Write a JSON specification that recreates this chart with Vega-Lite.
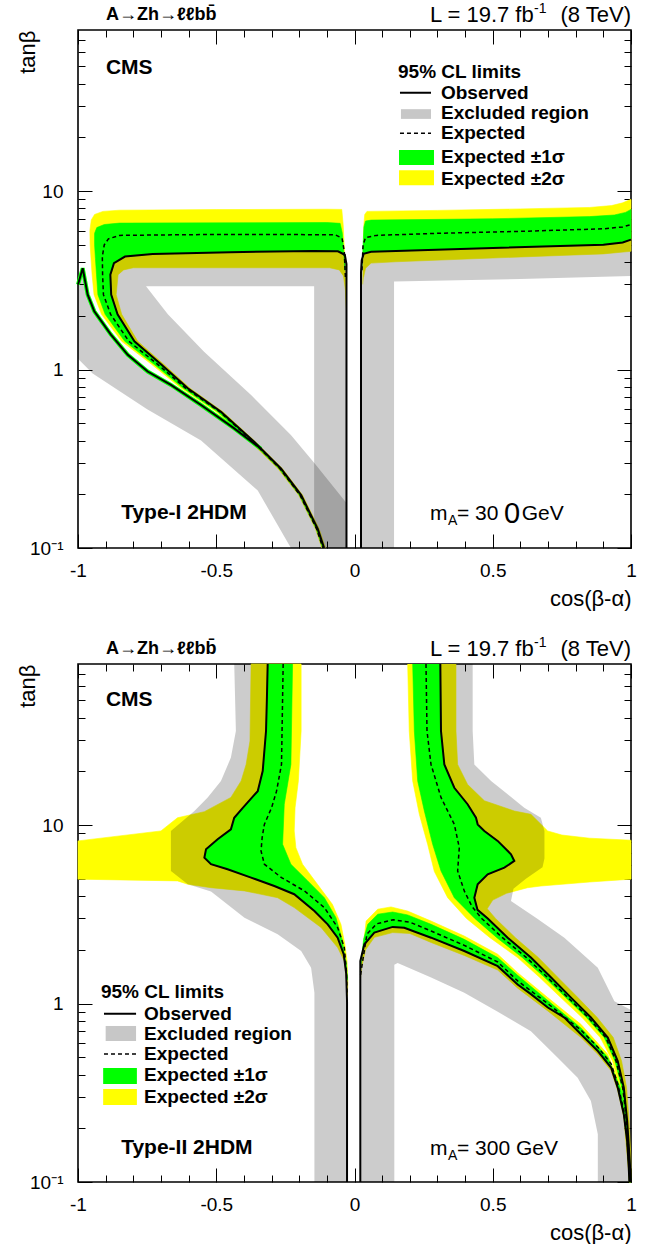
{
"$schema": "https://vega.github.io/schema/vega-lite/v6.json",
"padding": {"left": 15, "top": 1, "right": 5, "bottom": 0},
"spacing": 116,
"bounds": "flush",
"config": {
  "view": {"stroke": "#000", "strokeWidth": 1.6},
  "font": "Liberation Sans",
  "axis": {"labelFont": "Liberation Sans", "titleFont": "Liberation Sans", "labelColor": "#000", "titleColor": "#000", "tickColor": "#000", "tickWidth": 1, "domain": false, "grid": false, "labelFlush": false, "labelOverlap": false}
},
"datasets": {
"p1y": [
{"g":"L","x":-0.118,"y":0.1},{"g":"L","x":-0.141,"y":0.128},{"g":"L","x":-0.202,"y":0.198},{"g":"L","x":-0.277,"y":0.279},{"g":"L","x":-0.377,"y":0.394},{"g":"L","x":-0.501,"y":0.58},{"g":"L","x":-0.627,"y":0.785},{"g":"L","x":-0.734,"y":1.07},{"g":"L","x":-0.842,"y":1.44},{"g":"L","x":-0.915,"y":2.04},{"g":"L","x":-0.942,"y":2.63},{"g":"L","x":-0.949,"y":3.4},{"g":"L","x":-0.953,"y":4.2},{"g":"L","x":-0.956,"y":5.0},{"g":"L","x":-0.957,"y":6.0},{"g":"L","x":-0.952,"y":6.9},{"g":"L","x":-0.94,"y":7.4},{"g":"L","x":-0.91,"y":7.7},{"g":"L","x":-0.85,"y":7.82},{"g":"L","x":-0.5,"y":7.88},{"g":"L","x":-0.1,"y":7.92},{"g":"L","x":-0.046,"y":7.9},{"g":"L","x":-0.041,"y":6.5},{"g":"L","x":-0.036,"y":4.5},{"g":"L","x":-0.032,"y":3.0},{"g":"L","x":-0.029,"y":2.2},{"g":"L","x":-0.033,"y":2.8},{"g":"L","x":-0.04,"y":3.35},{"g":"L","x":-0.055,"y":3.62},{"g":"L","x":-0.09,"y":3.72},{"g":"L","x":-0.5,"y":3.72},{"g":"L","x":-0.8,"y":3.72},{"g":"L","x":-0.835,"y":3.62},{"g":"L","x":-0.855,"y":3.4},{"g":"L","x":-0.862,"y":2.63},{"g":"L","x":-0.842,"y":2.04},{"g":"L","x":-0.784,"y":1.44},{"g":"L","x":-0.69,"y":1.07},{"g":"L","x":-0.595,"y":0.785},{"g":"L","x":-0.476,"y":0.58},{"g":"L","x":-0.358,"y":0.394},{"g":"L","x":-0.261,"y":0.279},{"g":"L","x":-0.188,"y":0.198},{"g":"L","x":-0.128,"y":0.128},{"g":"L","x":-0.105,"y":0.1},
{"g":"R","x":0.03,"y":3.0},{"g":"R","x":0.032,"y":4.5},{"g":"R","x":0.034,"y":6.5},{"g":"R","x":0.037,"y":7.4},{"g":"R","x":0.045,"y":7.7},{"g":"R","x":0.3,"y":7.8},{"g":"R","x":0.6,"y":7.95},{"g":"R","x":0.85,"y":8.1},{"g":"R","x":0.93,"y":8.3},{"g":"R","x":0.97,"y":8.6},{"g":"R","x":1,"y":9.0},{"g":"R","x":1,"y":4.6},{"g":"R","x":0.9,"y":4.45},{"g":"R","x":0.5,"y":4.22},{"g":"R","x":0.15,"y":4.02},{"g":"R","x":0.06,"y":3.95},{"g":"R","x":0.04,"y":3.7},{"g":"R","x":0.033,"y":3.3}
],
"p1g": [
{"g":"L","x":-0.115,"y":0.1},{"g":"L","x":-0.138,"y":0.128},{"g":"L","x":-0.199,"y":0.198},{"g":"L","x":-0.273,"y":0.279},{"g":"L","x":-0.372,"y":0.394},{"g":"L","x":-0.495,"y":0.58},{"g":"L","x":-0.619,"y":0.785},{"g":"L","x":-0.725,"y":1.07},{"g":"L","x":-0.831,"y":1.44},{"g":"L","x":-0.902,"y":2.04},{"g":"L","x":-0.928,"y":2.63},{"g":"L","x":-0.933,"y":3.4},{"g":"L","x":-0.937,"y":4.2},{"g":"L","x":-0.94,"y":5.0},{"g":"L","x":-0.94,"y":5.8},{"g":"L","x":-0.932,"y":6.25},{"g":"L","x":-0.905,"y":6.5},{"g":"L","x":-0.85,"y":6.62},{"g":"L","x":-0.4,"y":6.65},{"g":"L","x":-0.1,"y":6.67},{"g":"L","x":-0.052,"y":6.6},{"g":"L","x":-0.044,"y":5.8},{"g":"L","x":-0.039,"y":4.6},{"g":"L","x":-0.035,"y":3.6},{"g":"L","x":-0.033,"y":4.2},{"g":"L","x":-0.045,"y":4.55},{"g":"L","x":-0.07,"y":4.62},{"g":"L","x":-0.15,"y":4.62},{"g":"L","x":-0.45,"y":4.55},{"g":"L","x":-0.73,"y":4.45},{"g":"L","x":-0.83,"y":4.3},{"g":"L","x":-0.87,"y":3.95},{"g":"L","x":-0.883,"y":3.4},{"g":"L","x":-0.88,"y":2.63},{"g":"L","x":-0.857,"y":2.04},{"g":"L","x":-0.796,"y":1.44},{"g":"L","x":-0.7,"y":1.07},{"g":"L","x":-0.603,"y":0.785},{"g":"L","x":-0.483,"y":0.58},{"g":"L","x":-0.363,"y":0.394},{"g":"L","x":-0.266,"y":0.279},{"g":"L","x":-0.193,"y":0.198},{"g":"L","x":-0.133,"y":0.128},{"g":"L","x":-0.11,"y":0.1},
{"g":"R","x":0.028,"y":3.8},{"g":"R","x":0.031,"y":5.0},{"g":"R","x":0.034,"y":6.3},{"g":"R","x":0.04,"y":6.8},{"g":"R","x":0.06,"y":6.88},{"g":"R","x":0.5,"y":7.0},{"g":"R","x":0.85,"y":7.2},{"g":"R","x":0.94,"y":7.35},{"g":"R","x":0.98,"y":7.6},{"g":"R","x":1,"y":7.9},{"g":"R","x":1,"y":5.35},{"g":"R","x":0.97,"y":5.15},{"g":"R","x":0.9,"y":5.0},{"g":"R","x":0.5,"y":4.8},{"g":"R","x":0.15,"y":4.62},{"g":"R","x":0.06,"y":4.57},{"g":"R","x":0.033,"y":4.45},{"g":"R","x":0.028,"y":4.2}
],
"p1h": [
{"g":"B","x":-0.11,"y":0.1},{"g":"B","x":-0.133,"y":0.128},{"g":"B","x":-0.193,"y":0.198},{"g":"B","x":-0.266,"y":0.279},{"g":"B","x":-0.363,"y":0.394},{"g":"B","x":-0.483,"y":0.58},{"g":"B","x":-0.603,"y":0.785},{"g":"B","x":-0.7,"y":1.07},{"g":"B","x":-0.796,"y":1.44},{"g":"B","x":-0.857,"y":2.04},{"g":"B","x":-0.88,"y":2.63},{"g":"B","x":-0.883,"y":3.4},{"g":"B","x":-0.87,"y":3.95},{"g":"B","x":-0.83,"y":4.3},{"g":"B","x":-0.73,"y":4.45},{"g":"B","x":-0.45,"y":4.55},{"g":"B","x":-0.15,"y":4.62},{"g":"B","x":-0.06,"y":4.6},{"g":"B","x":-0.035,"y":4.4},{"g":"B","x":-0.029,"y":3.9},{"g":"B","x":-0.029,"y":0.1},{"g":"B","x":-0.11,"y":0.1},{"g":"B","x":-0.754,"y":2.93},{"g":"B","x":-0.675,"y":2.04},{"g":"B","x":-0.544,"y":1.26},{"g":"B","x":-0.374,"y":0.72},{"g":"B","x":-0.23,"y":0.43},{"g":"B","x":-0.146,"y":0.3},{"g":"B","x":-0.146,"y":2.93},{"g":"B","x":-0.754,"y":2.93},{"g":"B","x":-0.11,"y":0.1},
{"g":"D","x":-0.146,"y":0.3},{"g":"D","x":-0.029,"y":0.179},{"g":"D","x":-0.029,"y":0.1},{"g":"D","x":-0.11,"y":0.1},{"g":"D","x":-0.133,"y":0.128},{"g":"D","x":-0.146,"y":0.145},
{"g":"A","x":-1,"y":3.0},{"g":"A","x":-0.983,"y":3.7},{"g":"A","x":-0.965,"y":2.63},{"g":"A","x":-0.941,"y":2.12},{"g":"A","x":-0.881,"y":1.57},{"g":"A","x":-0.82,"y":1.21},{"g":"A","x":-0.748,"y":0.975},{"g":"A","x":-0.664,"y":0.82},{"g":"A","x":-0.555,"y":0.633},{"g":"A","x":-0.435,"y":0.468},{"g":"A","x":-0.338,"y":0.36},{"g":"A","x":-0.266,"y":0.279},{"g":"A","x":-0.193,"y":0.198},{"g":"A","x":-0.133,"y":0.128},{"g":"A","x":-0.11,"y":0.1},{"g":"A","x":-0.23,"y":0.1},{"g":"A","x":-0.35,"y":0.21},{"g":"A","x":-0.555,"y":0.4},{"g":"A","x":-0.75,"y":0.6},{"g":"A","x":-0.947,"y":0.95},{"g":"A","x":-1,"y":1.15},
{"g":"R","x":0.0235,"y":0.1},{"g":"R","x":0.0235,"y":3.5},{"g":"R","x":0.026,"y":4.1},{"g":"R","x":0.033,"y":4.45},{"g":"R","x":0.06,"y":4.57},{"g":"R","x":0.15,"y":4.62},{"g":"R","x":0.5,"y":4.8},{"g":"R","x":0.9,"y":5.0},{"g":"R","x":0.97,"y":5.15},{"g":"R","x":1,"y":5.35},{"g":"R","x":1,"y":3.35},{"g":"R","x":0.6,"y":3.22},{"g":"R","x":0.143,"y":3.12},{"g":"R","x":0.143,"y":0.1}
],
"p1o": [
{"g":"L","x":-0.029,"y":0.1},{"g":"L","x":-0.029,"y":3.9},{"g":"L","x":-0.035,"y":4.4},{"g":"L","x":-0.06,"y":4.6},{"g":"L","x":-0.15,"y":4.62},{"g":"L","x":-0.45,"y":4.55},{"g":"L","x":-0.73,"y":4.45},{"g":"L","x":-0.83,"y":4.3},{"g":"L","x":-0.87,"y":3.95},{"g":"L","x":-0.883,"y":3.4},{"g":"L","x":-0.88,"y":2.63},{"g":"L","x":-0.857,"y":2.04},{"g":"L","x":-0.796,"y":1.44},{"g":"L","x":-0.7,"y":1.07},{"g":"L","x":-0.603,"y":0.785},{"g":"L","x":-0.483,"y":0.58},{"g":"L","x":-0.363,"y":0.394},{"g":"L","x":-0.266,"y":0.279},{"g":"L","x":-0.193,"y":0.198},{"g":"L","x":-0.133,"y":0.128},{"g":"L","x":-0.11,"y":0.1},
{"g":"A","x":-1,"y":3.0},{"g":"A","x":-0.983,"y":3.7},{"g":"A","x":-0.965,"y":2.63},{"g":"A","x":-0.941,"y":2.12},{"g":"A","x":-0.881,"y":1.57},{"g":"A","x":-0.82,"y":1.21},{"g":"A","x":-0.748,"y":0.975},{"g":"A","x":-0.664,"y":0.82},{"g":"A","x":-0.555,"y":0.633},{"g":"A","x":-0.435,"y":0.468},{"g":"A","x":-0.338,"y":0.36},
{"g":"R","x":0.0235,"y":0.1},{"g":"R","x":0.0235,"y":3.5},{"g":"R","x":0.026,"y":4.1},{"g":"R","x":0.033,"y":4.45},{"g":"R","x":0.06,"y":4.57},{"g":"R","x":0.15,"y":4.62},{"g":"R","x":0.5,"y":4.8},{"g":"R","x":0.9,"y":5.0},{"g":"R","x":0.97,"y":5.15},{"g":"R","x":1,"y":5.35}
],
"p1e": [
{"g":"L","x":-0.033,"y":3.3},{"g":"L","x":-0.037,"y":4.6},{"g":"L","x":-0.045,"y":5.45},{"g":"L","x":-0.07,"y":5.7},{"g":"L","x":-0.5,"y":5.72},{"g":"L","x":-0.85,"y":5.65},{"g":"L","x":-0.89,"y":5.4},{"g":"L","x":-0.905,"y":5.0},{"g":"L","x":-0.912,"y":4.3},{"g":"L","x":-0.911,"y":3.4},{"g":"L","x":-0.908,"y":2.63},{"g":"L","x":-0.882,"y":2.04},{"g":"L","x":-0.816,"y":1.44},{"g":"L","x":-0.712,"y":1.07},{"g":"L","x":-0.61,"y":0.785},{"g":"L","x":-0.487,"y":0.58},{"g":"L","x":-0.367,"y":0.394},{"g":"L","x":-0.27,"y":0.279},{"g":"L","x":-0.197,"y":0.198},{"g":"L","x":-0.137,"y":0.128},{"g":"L","x":-0.114,"y":0.1},
{"g":"R","x":0.027,"y":3.6},{"g":"R","x":0.031,"y":5.0},{"g":"R","x":0.04,"y":5.5},{"g":"R","x":0.08,"y":5.65},{"g":"R","x":0.3,"y":5.8},{"g":"R","x":0.6,"y":5.95},{"g":"R","x":0.9,"y":6.15},{"g":"R","x":0.97,"y":6.3},{"g":"R","x":1,"y":6.5}
],
"p2y": [
{"g":"L","x":-0.374,"y":80},{"g":"L","x":-0.193,"y":80},{"g":"L","x":-0.193,"y":33.7},{"g":"L","x":-0.203,"y":17.7},{"g":"L","x":-0.215,"y":12.5},{"g":"L","x":-0.218,"y":9.28},{"g":"L","x":-0.212,"y":7.48},{"g":"L","x":-0.188,"y":6.04},{"g":"L","x":-0.134,"y":4.66},{"g":"L","x":-0.08,"y":3.6},{"g":"L","x":-0.049,"y":2.78},{"g":"L","x":-0.035,"y":2.15},{"g":"L","x":-0.027,"y":1.73},{"g":"L","x":-0.024,"y":1.3},{"g":"L","x":-0.026,"y":1.1},{"g":"L","x":-0.03,"y":1.4},{"g":"L","x":-0.037,"y":1.73},{"g":"L","x":-0.061,"y":2.06},{"g":"L","x":-0.121,"y":2.67},{"g":"L","x":-0.218,"y":3.45},{"g":"L","x":-0.278,"y":3.92},{"g":"L","x":-0.398,"y":4.28},{"g":"L","x":-0.519,"y":4.46},{"g":"L","x":-0.603,"y":4.66},{"g":"L","x":-0.64,"y":4.87},{"g":"L","x":-1,"y":4.98},{"g":"L","x":-1,"y":8.16},{"g":"L","x":-0.7,"y":9.28},{"g":"L","x":-0.64,"y":11.0},{"g":"L","x":-0.543,"y":11.9},{"g":"L","x":-0.447,"y":14.3},{"g":"L","x":-0.41,"y":17.7},{"g":"L","x":-0.392,"y":21.9},{"g":"L","x":-0.378,"y":29.6},{"g":"L","x":-0.374,"y":80},
{"g":"H","x":0.021,"y":1.3},{"g":"H","x":0.023,"y":1.5},{"g":"H","x":0.027,"y":1.75},{"g":"H","x":0.03,"y":1.97},{"g":"H","x":0.042,"y":2.9},{"g":"H","x":0.084,"y":3.38},{"g":"H","x":0.132,"y":3.48},{"g":"H","x":0.192,"y":3.3},{"g":"H","x":0.277,"y":2.9},{"g":"H","x":0.397,"y":2.39},{"g":"H","x":0.518,"y":1.89},{"g":"H","x":0.59,"y":1.49},{"g":"H","x":0.699,"y":1.08},{"g":"H","x":0.819,"y":0.765},{"g":"H","x":0.916,"y":0.52},{"g":"H","x":0.964,"y":0.338},{"g":"H","x":0.985,"y":0.205},{"g":"H","x":0.997,"y":0.1},{"g":"H","x":0.994,"y":0.1},{"g":"H","x":0.99,"y":0.12},{"g":"H","x":0.974,"y":0.23},{"g":"H","x":0.952,"y":0.325},{"g":"H","x":0.928,"y":0.42},{"g":"H","x":0.88,"y":0.52},{"g":"H","x":0.819,"y":0.645},{"g":"H","x":0.699,"y":0.91},{"g":"H","x":0.59,"y":1.22},{"g":"H","x":0.518,"y":1.54},{"g":"H","x":0.397,"y":1.86},{"g":"H","x":0.277,"y":2.2},{"g":"H","x":0.2,"y":2.47},{"g":"H","x":0.138,"y":2.5},{"g":"H","x":0.072,"y":2.35},{"g":"H","x":0.04,"y":2.0},{"g":"H","x":0.026,"y":1.6},
{"g":"R","x":0.1923,"y":80},{"g":"R","x":0.198,"y":33.7},{"g":"R","x":0.2104,"y":17.7},{"g":"R","x":0.2345,"y":11.5},{"g":"R","x":0.2646,"y":7.8},{"g":"R","x":0.2887,"y":5.5},{"g":"R","x":0.337,"y":3.92},{"g":"R","x":0.405,"y":3.0},{"g":"R","x":0.49,"y":2.34},{"g":"R","x":0.59,"y":1.81},{"g":"R","x":0.67,"y":1.4},{"g":"R","x":0.746,"y":1.08},{"g":"R","x":0.823,"y":0.835},{"g":"R","x":0.889,"y":0.645},{"g":"R","x":0.933,"y":0.476},{"g":"R","x":0.96,"y":0.338},{"g":"R","x":0.977,"y":0.22},{"g":"R","x":0.988,"y":0.143},{"g":"R","x":0.994,"y":0.1},{"g":"R","x":1,"y":0.1},{"g":"R","x":0.999,"y":0.143},{"g":"R","x":0.993,"y":0.22},{"g":"R","x":0.984,"y":0.338},{"g":"R","x":0.966,"y":0.476},{"g":"R","x":0.936,"y":0.645},{"g":"R","x":0.878,"y":0.835},{"g":"R","x":0.808,"y":1.08},{"g":"R","x":0.736,"y":1.4},{"g":"R","x":0.665,"y":1.81},{"g":"R","x":0.582,"y":2.34},{"g":"R","x":0.51,"y":3.0},{"g":"R","x":0.48,"y":3.4},{"g":"R","x":0.5,"y":3.8},{"g":"R","x":0.55,"y":4.15},{"g":"R","x":0.626,"y":4.46},{"g":"R","x":0.6745,"y":4.56},{"g":"R","x":0.85,"y":4.8},{"g":"R","x":1,"y":4.98},{"g":"R","x":1,"y":8.23},{"g":"R","x":0.85,"y":8.45},{"g":"R","x":0.75,"y":8.8},{"g":"R","x":0.6986,"y":9.28},{"g":"R","x":0.638,"y":11.5},{"g":"R","x":0.578,"y":12.0},{"g":"R","x":0.4696,"y":13.7},{"g":"R","x":0.409,"y":16.9},{"g":"R","x":0.373,"y":21.9},{"g":"R","x":0.367,"y":33.7},{"g":"R","x":0.367,"y":80}
],
"p2g": [
{"g":"L","x":-0.314,"y":80},{"g":"L","x":-0.317,"y":50},{"g":"L","x":-0.32,"y":33.7},{"g":"L","x":-0.332,"y":20.1},{"g":"L","x":-0.35,"y":15.5},{"g":"L","x":-0.404,"y":12.5},{"g":"L","x":-0.435,"y":11.0},{"g":"L","x":-0.447,"y":9.48},{"g":"L","x":-0.495,"y":8.34},{"g":"L","x":-0.537,"y":7.33},{"g":"L","x":-0.543,"y":6.57},{"g":"L","x":-0.519,"y":6.04},{"g":"L","x":-0.459,"y":5.66},{"g":"L","x":-0.374,"y":5.08},{"g":"L","x":-0.29,"y":4.56},{"g":"L","x":-0.218,"y":4.1},{"g":"L","x":-0.145,"y":3.3},{"g":"L","x":-0.097,"y":2.78},{"g":"L","x":-0.061,"y":2.34},{"g":"L","x":-0.039,"y":1.89},{"g":"L","x":-0.03,"y":1.47},{"g":"L","x":-0.025,"y":1.35},{"g":"L","x":-0.03,"y":1.7},{"g":"L","x":-0.035,"y":1.81},{"g":"L","x":-0.043,"y":2.24},{"g":"L","x":-0.067,"y":3.03},{"g":"L","x":-0.109,"y":3.92},{"g":"L","x":-0.169,"y":4.87},{"g":"L","x":-0.23,"y":6.04},{"g":"L","x":-0.26,"y":7.81},{"g":"L","x":-0.254,"y":13.1},{"g":"L","x":-0.23,"y":21.9},{"g":"L","x":-0.224,"y":80},
{"g":"H","x":0.021,"y":1.5},{"g":"H","x":0.026,"y":1.8},{"g":"H","x":0.033,"y":2.3},{"g":"H","x":0.048,"y":2.78},{"g":"H","x":0.084,"y":3.17},{"g":"H","x":0.138,"y":3.26},{"g":"H","x":0.192,"y":3.14},{"g":"H","x":0.277,"y":2.78},{"g":"H","x":0.397,"y":2.29},{"g":"H","x":0.518,"y":1.81},{"g":"H","x":0.59,"y":1.44},{"g":"H","x":0.699,"y":1.04},{"g":"H","x":0.819,"y":0.73},{"g":"H","x":0.916,"y":0.5},{"g":"H","x":0.964,"y":0.33},{"g":"H","x":0.985,"y":0.2},{"g":"H","x":0.996,"y":0.1},{"g":"H","x":0.994,"y":0.1},{"g":"H","x":0.992,"y":0.12},{"g":"H","x":0.986,"y":0.17},{"g":"H","x":0.974,"y":0.24},{"g":"H","x":0.952,"y":0.338},{"g":"H","x":0.928,"y":0.438},{"g":"H","x":0.88,"y":0.542},{"g":"H","x":0.819,"y":0.673},{"g":"H","x":0.759,"y":0.835},{"g":"H","x":0.699,"y":0.95},{"g":"H","x":0.638,"y":1.13},{"g":"H","x":0.59,"y":1.28},{"g":"H","x":0.518,"y":1.62},{"g":"H","x":0.397,"y":1.97},{"g":"H","x":0.277,"y":2.34},{"g":"H","x":0.18,"y":2.66},{"g":"H","x":0.138,"y":2.69},{"g":"H","x":0.0717,"y":2.5},{"g":"H","x":0.0356,"y":2.15},{"g":"H","x":0.021,"y":1.73},
{"g":"R","x":0.2104,"y":80},{"g":"R","x":0.2164,"y":33.7},{"g":"R","x":0.2285,"y":17.7},{"g":"R","x":0.2526,"y":12.0},{"g":"R","x":0.2827,"y":7.81},{"g":"R","x":0.3128,"y":5.54},{"g":"R","x":0.361,"y":3.92},{"g":"R","x":0.435,"y":3.0},{"g":"R","x":0.515,"y":2.34},{"g":"R","x":0.607,"y":1.81},{"g":"R","x":0.688,"y":1.4},{"g":"R","x":0.764,"y":1.08},{"g":"R","x":0.839,"y":0.835},{"g":"R","x":0.903,"y":0.645},{"g":"R","x":0.942,"y":0.476},{"g":"R","x":0.967,"y":0.338},{"g":"R","x":0.982,"y":0.22},{"g":"R","x":0.991,"y":0.143},{"g":"R","x":0.997,"y":0.1},{"g":"R","x":1,"y":0.1},{"g":"R","x":0.994,"y":0.143},{"g":"R","x":0.986,"y":0.22},{"g":"R","x":0.974,"y":0.338},{"g":"R","x":0.952,"y":0.476},{"g":"R","x":0.916,"y":0.645},{"g":"R","x":0.855,"y":0.835},{"g":"R","x":0.783,"y":1.08},{"g":"R","x":0.711,"y":1.4},{"g":"R","x":0.638,"y":1.81},{"g":"R","x":0.554,"y":2.34},{"g":"R","x":0.482,"y":3.0},{"g":"R","x":0.445,"y":3.35},{"g":"R","x":0.4334,"y":3.92},{"g":"R","x":0.4455,"y":4.66},{"g":"R","x":0.4817,"y":5.3},{"g":"R","x":0.542,"y":5.78},{"g":"R","x":0.578,"y":6.3},{"g":"R","x":0.566,"y":6.87},{"g":"R","x":0.5178,"y":8.16},{"g":"R","x":0.4696,"y":9.28},{"g":"R","x":0.4455,"y":10.1},{"g":"R","x":0.4394,"y":11.0},{"g":"R","x":0.409,"y":13.1},{"g":"R","x":0.361,"y":16.2},{"g":"R","x":0.3249,"y":21.9},{"g":"R","x":0.3128,"y":33.7},{"g":"R","x":0.3104,"y":80}
],
"p2h": [
{"g":"L","x":-0.314,"y":80},{"g":"L","x":-0.317,"y":50},{"g":"L","x":-0.32,"y":33.7},{"g":"L","x":-0.332,"y":20.1},{"g":"L","x":-0.35,"y":15.5},{"g":"L","x":-0.404,"y":12.5},{"g":"L","x":-0.435,"y":11.0},{"g":"L","x":-0.447,"y":9.48},{"g":"L","x":-0.495,"y":8.34},{"g":"L","x":-0.537,"y":7.33},{"g":"L","x":-0.543,"y":6.57},{"g":"L","x":-0.519,"y":6.04},{"g":"L","x":-0.459,"y":5.66},{"g":"L","x":-0.374,"y":5.08},{"g":"L","x":-0.29,"y":4.56},{"g":"L","x":-0.218,"y":4.1},{"g":"L","x":-0.145,"y":3.3},{"g":"L","x":-0.097,"y":2.78},{"g":"L","x":-0.061,"y":2.34},{"g":"L","x":-0.039,"y":1.89},{"g":"L","x":-0.03,"y":1.47},{"g":"L","x":-0.027,"y":1.03},{"g":"L","x":-0.027,"y":0.1},{"g":"L","x":-0.145,"y":0.1},{"g":"L","x":-0.145,"y":1.15},{"g":"L","x":-0.157,"y":1.59},{"g":"L","x":-0.193,"y":1.97},{"g":"L","x":-0.278,"y":2.45},{"g":"L","x":-0.398,"y":3.03},{"g":"L","x":-0.519,"y":4.25},{"g":"L","x":-0.603,"y":4.66},{"g":"L","x":-0.664,"y":5.54},{"g":"L","x":-0.664,"y":9.28},{"g":"L","x":-0.579,"y":12.0},{"g":"L","x":-0.531,"y":14.3},{"g":"L","x":-0.483,"y":17.7},{"g":"L","x":-0.447,"y":23.9},{"g":"L","x":-0.429,"y":33.7},{"g":"L","x":-0.435,"y":80},
{"g":"H","x":0.021,"y":0.1},{"g":"H","x":0.021,"y":1.73},{"g":"H","x":0.0356,"y":2.15},{"g":"H","x":0.0717,"y":2.5},{"g":"H","x":0.138,"y":2.69},{"g":"H","x":0.18,"y":2.66},{"g":"H","x":0.277,"y":2.34},{"g":"H","x":0.397,"y":1.97},{"g":"H","x":0.518,"y":1.62},{"g":"H","x":0.59,"y":1.28},{"g":"H","x":0.638,"y":1.13},{"g":"H","x":0.699,"y":0.95},{"g":"H","x":0.759,"y":0.835},{"g":"H","x":0.819,"y":0.673},{"g":"H","x":0.88,"y":0.542},{"g":"H","x":0.928,"y":0.438},{"g":"H","x":0.952,"y":0.338},{"g":"H","x":0.974,"y":0.24},{"g":"H","x":0.986,"y":0.17},{"g":"H","x":0.992,"y":0.12},{"g":"H","x":0.994,"y":0.1},{"g":"H","x":0.88,"y":0.1},{"g":"H","x":0.88,"y":0.185},{"g":"H","x":0.855,"y":0.284},{"g":"H","x":0.807,"y":0.384},{"g":"H","x":0.735,"y":0.497},{"g":"H","x":0.638,"y":0.7},{"g":"H","x":0.518,"y":0.9},{"g":"H","x":0.397,"y":1.15},{"g":"H","x":0.277,"y":1.4},{"g":"H","x":0.156,"y":1.69},{"g":"H","x":0.144,"y":1.65},{"g":"H","x":0.144,"y":0.1},
{"g":"R","x":0.3104,"y":80},{"g":"R","x":0.3128,"y":33.7},{"g":"R","x":0.3249,"y":21.9},{"g":"R","x":0.361,"y":16.2},{"g":"R","x":0.409,"y":13.1},{"g":"R","x":0.4394,"y":11.0},{"g":"R","x":0.4455,"y":10.1},{"g":"R","x":0.4696,"y":9.28},{"g":"R","x":0.5178,"y":8.16},{"g":"R","x":0.566,"y":6.87},{"g":"R","x":0.578,"y":6.3},{"g":"R","x":0.542,"y":5.78},{"g":"R","x":0.4817,"y":5.3},{"g":"R","x":0.4455,"y":4.66},{"g":"R","x":0.4334,"y":3.92},{"g":"R","x":0.445,"y":3.35},{"g":"R","x":0.482,"y":3.0},{"g":"R","x":0.554,"y":2.34},{"g":"R","x":0.638,"y":1.81},{"g":"R","x":0.711,"y":1.4},{"g":"R","x":0.783,"y":1.08},{"g":"R","x":0.855,"y":0.835},{"g":"R","x":0.916,"y":0.645},{"g":"R","x":0.952,"y":0.476},{"g":"R","x":0.974,"y":0.338},{"g":"R","x":0.986,"y":0.22},{"g":"R","x":0.994,"y":0.143},{"g":"R","x":1,"y":0.1},{"g":"R","x":1,"y":0.92},{"g":"R","x":0.94,"y":1.03},{"g":"R","x":0.88,"y":1.59},{"g":"R","x":0.759,"y":2.34},{"g":"R","x":0.66,"y":3.0},{"g":"R","x":0.566,"y":3.76},{"g":"R","x":0.575,"y":4.4},{"g":"R","x":0.62,"y":5.0},{"g":"R","x":0.68,"y":5.8},{"g":"R","x":0.687,"y":6.5},{"g":"R","x":0.687,"y":9.28},{"g":"R","x":0.674,"y":11.0},{"g":"R","x":0.614,"y":12.5},{"g":"R","x":0.554,"y":14.9},{"g":"R","x":0.494,"y":17.7},{"g":"R","x":0.4334,"y":21.9},{"g":"R","x":0.4274,"y":33.7},{"g":"R","x":0.4274,"y":80}
],
"p2o": [
{"g":"L","x":-0.314,"y":80},{"g":"L","x":-0.317,"y":50},{"g":"L","x":-0.32,"y":33.7},{"g":"L","x":-0.332,"y":20.1},{"g":"L","x":-0.35,"y":15.5},{"g":"L","x":-0.404,"y":12.5},{"g":"L","x":-0.435,"y":11.0},{"g":"L","x":-0.447,"y":9.48},{"g":"L","x":-0.495,"y":8.34},{"g":"L","x":-0.537,"y":7.33},{"g":"L","x":-0.543,"y":6.57},{"g":"L","x":-0.519,"y":6.04},{"g":"L","x":-0.459,"y":5.66},{"g":"L","x":-0.374,"y":5.08},{"g":"L","x":-0.29,"y":4.56},{"g":"L","x":-0.218,"y":4.1},{"g":"L","x":-0.145,"y":3.3},{"g":"L","x":-0.097,"y":2.78},{"g":"L","x":-0.061,"y":2.34},{"g":"L","x":-0.039,"y":1.89},{"g":"L","x":-0.03,"y":1.47},{"g":"L","x":-0.027,"y":1.03},{"g":"L","x":-0.027,"y":0.1},
{"g":"H","x":0.021,"y":0.1},{"g":"H","x":0.021,"y":1.73},{"g":"H","x":0.0356,"y":2.15},{"g":"H","x":0.0717,"y":2.5},{"g":"H","x":0.138,"y":2.69},{"g":"H","x":0.18,"y":2.66},{"g":"H","x":0.277,"y":2.34},{"g":"H","x":0.397,"y":1.97},{"g":"H","x":0.518,"y":1.62},{"g":"H","x":0.59,"y":1.28},{"g":"H","x":0.638,"y":1.13},{"g":"H","x":0.699,"y":0.95},{"g":"H","x":0.759,"y":0.835},{"g":"H","x":0.819,"y":0.673},{"g":"H","x":0.88,"y":0.542},{"g":"H","x":0.928,"y":0.438},{"g":"H","x":0.952,"y":0.338},{"g":"H","x":0.974,"y":0.24},{"g":"H","x":0.986,"y":0.17},{"g":"H","x":0.992,"y":0.12},{"g":"H","x":0.994,"y":0.1},
{"g":"R","x":0.3104,"y":80},{"g":"R","x":0.3128,"y":33.7},{"g":"R","x":0.3249,"y":21.9},{"g":"R","x":0.361,"y":16.2},{"g":"R","x":0.409,"y":13.1},{"g":"R","x":0.4394,"y":11.0},{"g":"R","x":0.4455,"y":10.1},{"g":"R","x":0.4696,"y":9.28},{"g":"R","x":0.5178,"y":8.16},{"g":"R","x":0.566,"y":6.87},{"g":"R","x":0.578,"y":6.3},{"g":"R","x":0.542,"y":5.78},{"g":"R","x":0.4817,"y":5.3},{"g":"R","x":0.4455,"y":4.66},{"g":"R","x":0.4334,"y":3.92},{"g":"R","x":0.445,"y":3.35},{"g":"R","x":0.482,"y":3.0},{"g":"R","x":0.554,"y":2.34},{"g":"R","x":0.638,"y":1.81},{"g":"R","x":0.711,"y":1.4},{"g":"R","x":0.783,"y":1.08},{"g":"R","x":0.855,"y":0.835},{"g":"R","x":0.916,"y":0.645},{"g":"R","x":0.952,"y":0.476},{"g":"R","x":0.974,"y":0.338},{"g":"R","x":0.986,"y":0.22},{"g":"R","x":0.994,"y":0.143},{"g":"R","x":1,"y":0.1}
],
"p2e": [
{"g":"L","x":-0.258,"y":80},{"g":"L","x":-0.264,"y":21.9},{"g":"L","x":-0.282,"y":15.5},{"g":"L","x":-0.3,"y":12.5},{"g":"L","x":-0.326,"y":10.1},{"g":"L","x":-0.334,"y":8.52},{"g":"L","x":-0.338,"y":7.17},{"g":"L","x":-0.326,"y":6.04},{"g":"L","x":-0.264,"y":5.08},{"g":"L","x":-0.181,"y":4.28},{"g":"L","x":-0.109,"y":3.45},{"g":"L","x":-0.061,"y":2.67},{"g":"L","x":-0.037,"y":2.06},{"g":"L","x":-0.029,"y":1.5},{"g":"L","x":-0.027,"y":1.15},
{"g":"H","x":0.022,"y":1.45},{"g":"H","x":0.03,"y":1.75},{"g":"H","x":0.045,"y":2.45},{"g":"H","x":0.08,"y":2.8},{"g":"H","x":0.14,"y":2.95},{"g":"H","x":0.2,"y":2.86},{"g":"H","x":0.277,"y":2.55},{"g":"H","x":0.397,"y":2.12},{"g":"H","x":0.518,"y":1.71},{"g":"H","x":0.59,"y":1.34},{"g":"H","x":0.699,"y":1.0},{"g":"H","x":0.819,"y":0.71},{"g":"H","x":0.88,"y":0.57},{"g":"H","x":0.928,"y":0.46},{"g":"H","x":0.952,"y":0.355},{"g":"H","x":0.974,"y":0.25},{"g":"H","x":0.986,"y":0.175},{"g":"H","x":0.993,"y":0.12},
{"g":"R","x":0.2586,"y":80},{"g":"R","x":0.2622,"y":33.7},{"g":"R","x":0.2767,"y":21.9},{"g":"R","x":0.3128,"y":14.3},{"g":"R","x":0.361,"y":10.1},{"g":"R","x":0.379,"y":7.48},{"g":"R","x":0.373,"y":5.54},{"g":"R","x":0.397,"y":4.28},{"g":"R","x":0.425,"y":3.5},{"g":"R","x":0.46,"y":3.0},{"g":"R","x":0.535,"y":2.34},{"g":"R","x":0.622,"y":1.81},{"g":"R","x":0.698,"y":1.4},{"g":"R","x":0.772,"y":1.08},{"g":"R","x":0.846,"y":0.835},{"g":"R","x":0.909,"y":0.645},{"g":"R","x":0.946,"y":0.476},{"g":"R","x":0.97,"y":0.338},{"g":"R","x":0.984,"y":0.22},{"g":"R","x":0.993,"y":0.143}
]
},
"vconcat": [
{
"width": 553, "height": 518,
"encoding": {
  "x": {"field": "x", "type": "quantitative", "scale": {"domain": [-1, 1], "nice": false, "zero": false}, "axis": null},
  "y": {"field": "y", "type": "quantitative", "scale": {"type": "log", "domain": [0.1, 80], "nice": false}, "axis": null}
},
"resolve": {"axis": {"x": "independent", "y": "independent"}},
"layer": [
{"data": {"name": "p1y"}, "mark": {"type": "line", "fill": "#ffff00", "stroke": "#ffff00", "strokeWidth": 0.6},
 "encoding": {
  "x": {"field": "x", "type": "quantitative", "scale": {"domain": [-1, 1], "nice": false, "zero": false},
   "axis": {"orient": "bottom", "values": [-1, -0.5, 0, 0.5, 1], "tickSize": -14, "labelPadding": 27, "labelFontSize": 19, "labelBaseline": "top", "labelAlign": "center", "labelExpr": "datum.value < -0.75 ? '-1' : datum.value < -0.25 ? '-0.5' : datum.value < 0.25 ? '0' : datum.value < 0.75 ? '0.5' : '1'", "title": "cos(β-α)", "titleFontSize": 22, "titleFontWeight": "normal", "titleX": 553, "titleY": 57, "titleAlign": "right", "titleBaseline": "alphabetic", "titleAngle": 0}},
  "y": {"field": "y", "type": "quantitative", "scale": {"type": "log", "domain": [0.1, 80], "nice": false},
   "axis": {"orient": "left", "values": [0.1, 1, 10], "tickSize": -14, "labelPadding": 29, "labelFontSize": 19, "labelAlign": "right", "labelBaseline": "middle", "labelExpr": "datum.value < 0.5 ? '10⁻¹' : datum.value < 5 ? '1' : '10'", "title": "tanβ", "titleFontSize": 22, "titleFontWeight": "normal", "titleX": -39, "titleY": 0, "titleAngle": 270, "titleAlign": "right", "titleBaseline": "bottom"}},
  "detail": {"field": "g"}, "order": {"value": null}}},
{"data": {"name": "p1g"}, "mark": {"type": "line", "fill": "#00ff00", "stroke": "#00ff00", "strokeWidth": 0.6},
 "encoding": {
  "x": {"field": "x", "type": "quantitative", "scale": {"domain": [-1, 1], "nice": false, "zero": false},
   "axis": {"orient": "bottom", "values": [-0.9, -0.8, -0.7, -0.6, -0.4, -0.3, -0.2, -0.1, 0.1, 0.2, 0.3, 0.4, 0.6, 0.7, 0.8, 0.9], "tickSize": -7, "labels": false, "title": null}},
  "y": {"field": "y", "type": "quantitative", "scale": {"type": "log", "domain": [0.1, 80], "nice": false},
   "axis": {"orient": "left", "values": [0.2, 0.3, 0.4, 0.5, 0.6, 0.7, 0.8, 0.9, 2, 3, 4, 5, 6, 7, 8, 9, 20, 30, 40, 50, 60, 70], "tickSize": -7, "labels": false, "title": null}},
  "detail": {"field": "g"}, "order": {"value": null}}},
{"data": {"name": "p1h"}, "mark": {"type": "line", "fill": "#000000", "fillOpacity": 0.2, "stroke": "transparent", "strokeWidth": 0},
 "encoding": {
  "x": {"field": "x", "type": "quantitative", "scale": {"domain": [-1, 1], "nice": false, "zero": false},
   "axis": {"orient": "top", "values": [-1, -0.5, 0, 0.5, 1], "tickSize": -14, "labels": false, "title": null}},
  "y": {"field": "y", "type": "quantitative", "scale": {"type": "log", "domain": [0.1, 80], "nice": false},
   "axis": {"orient": "right", "values": [0.1, 1, 10], "tickSize": -14, "labels": false, "title": null}},
  "detail": {"field": "g"}, "order": {"value": null}}},
{"data": {"name": "p1o"}, "transform": [{"filter": "datum.g == 'A'"}], "mark": {"type": "line", "stroke": "#00ff00", "strokeWidth": 4},
 "encoding": {"detail": {"field": "g"}, "order": {"value": null}}},
{"data": {"name": "p1e"}, "mark": {"type": "line", "stroke": "#000000", "strokeWidth": 1.5, "strokeDash": [4, 3]},
 "encoding": {
  "x": {"field": "x", "type": "quantitative", "scale": {"domain": [-1, 1], "nice": false, "zero": false},
   "axis": {"orient": "top", "values": [-0.9, -0.8, -0.7, -0.6, -0.4, -0.3, -0.2, -0.1, 0.1, 0.2, 0.3, 0.4, 0.6, 0.7, 0.8, 0.9], "tickSize": -7, "labels": false, "title": null}},
  "y": {"field": "y", "type": "quantitative", "scale": {"type": "log", "domain": [0.1, 80], "nice": false},
   "axis": {"orient": "right", "values": [0.2, 0.3, 0.4, 0.5, 0.6, 0.7, 0.8, 0.9, 2, 3, 4, 5, 6, 7, 8, 9, 20, 30, 40, 50, 60, 70], "tickSize": -7, "labels": false, "title": null}},
  "detail": {"field": "g"}, "order": {"value": null}}},
{"data": {"name": "p1o"}, "mark": {"type": "line", "stroke": "#000000", "strokeWidth": 2},
 "encoding": {"detail": {"field": "g"}, "order": {"value": null}}},
{"data": {"values": [{"x": 0.161, "x2": 0.2875, "y": 14.0, "y2": 17.0}]}, "mark": {"type": "rect", "color": "#00ff00"}, "encoding": {"x2": {"field": "x2"}, "y2": {"field": "y2"}}},
{"data": {"values": [{"x": 0.161, "x2": 0.2875, "y": 10.8, "y2": 13.1}]}, "mark": {"type": "rect", "color": "#ffff00"}, "encoding": {"x2": {"field": "x2"}, "y2": {"field": "y2"}}},
{"data": {"values": [{"x": 0.168, "x2": 0.2767, "y": 25.4, "y2": 28.8}]}, "mark": {"type": "rect", "color": "#000000", "opacity": 0.22}, "encoding": {"x2": {"field": "x2"}, "y2": {"field": "y2"}}},
{"data": {"values": [{"x": 0.1645, "x2": 0.2767, "y": 35.6}]}, "mark": {"type": "rule", "color": "#000000", "strokeWidth": 2}, "encoding": {"x2": {"field": "x2"}}},
{"data": {"values": [{"x": 0.1645, "x2": 0.2767, "y": 21.1}]}, "mark": {"type": "rule", "color": "#000000", "strokeWidth": 1.5, "strokeDash": [4, 3]}, "encoding": {"x2": {"field": "x2"}}},
{"data": {"values": [{"x": -0.899, "y": 49, "s": "CMS"}, {"x": -0.844, "y": 0.1575, "s": "Type-I 2HDM"}]}, "mark": {"type": "text", "font": "Liberation Sans", "fontSize": 21, "fontWeight": "bold", "align": "left", "baseline": "middle", "color": "#000"}, "encoding": {"text": {"field": "s"}}},
{"data": {"values": [{"x": 0.1573, "y": 46.5, "s": "95% CL limits"}, {"x": 0.3128, "y": 35.6, "s": "Observed"}, {"x": 0.3128, "y": 27.3, "s": "Excluded region"}, {"x": 0.3128, "y": 21.1, "s": "Expected"}, {"x": 0.3128, "y": 15.6, "s": "Expected ±1σ"}, {"x": 0.3128, "y": 11.74, "s": "Expected ±2σ"}]}, "mark": {"type": "text", "font": "Liberation Sans", "fontSize": 19, "fontWeight": "bold", "align": "left", "baseline": "middle", "color": "#000"}, "encoding": {"text": {"field": "s"}}},
{"data": {"values": [{"x": -0.899, "y": 97, "s": "A→Zh→ℓℓbb̄"}]}, "mark": {"type": "text", "font": "Liberation Sans", "fontSize": 18, "fontWeight": "bold", "align": "left", "baseline": "middle", "color": "#000"}, "encoding": {"text": {"field": "s"}}},
{"data": {"values": [{"x": 0.6482, "y": 97, "s": "L = 19.7 fb"}]}, "mark": {"type": "text", "font": "Liberation Sans", "fontSize": 22, "align": "right", "baseline": "middle", "color": "#000"}, "encoding": {"text": {"field": "s"}}},
{"data": {"values": [{"x": 0.6492, "y": 104.9, "s": "-1"}]}, "mark": {"type": "text", "font": "Liberation Sans", "fontSize": 14, "align": "left", "baseline": "middle", "color": "#000"}, "encoding": {"text": {"field": "s"}}},
{"data": {"values": [{"x": 1.0, "y": 97, "s": "(8 TeV)"}]}, "mark": {"type": "text", "font": "Liberation Sans", "fontSize": 22, "align": "right", "baseline": "middle", "color": "#000"}, "encoding": {"text": {"field": "s"}}},
{"data": {"values": [{"x": 0.2731, "y": 0.155, "s": "m"}, {"x": 0.3707, "y": 0.155, "s": "= 30"}, {"x": 0.6049, "y": 0.155, "s": "GeV"}]}, "mark": {"type": "text", "font": "Liberation Sans", "fontSize": 21, "align": "left", "baseline": "middle", "color": "#000"}, "encoding": {"text": {"field": "s"}}},
{"data": {"values": [{"x": 0.3382, "y": 0.1415, "s": "A"}]}, "mark": {"type": "text", "font": "Liberation Sans", "fontSize": 14, "align": "left", "baseline": "middle", "color": "#000"}, "encoding": {"text": {"field": "s"}}},
{"data": {"values": [{"x": 0.5407, "y": 0.155, "s": "0"}]}, "mark": {"type": "text", "font": "Liberation Sans", "fontSize": 29, "align": "left", "baseline": "middle", "color": "#000"}, "encoding": {"text": {"field": "s"}}}
]
},
{
"width": 553, "height": 518,
"encoding": {
  "x": {"field": "x", "type": "quantitative", "scale": {"domain": [-1, 1], "nice": false, "zero": false}, "axis": null},
  "y": {"field": "y", "type": "quantitative", "scale": {"type": "log", "domain": [0.1, 80], "nice": false}, "axis": null}
},
"resolve": {"axis": {"x": "independent", "y": "independent"}},
"layer": [
{"data": {"name": "p2y"}, "mark": {"type": "line", "fill": "#ffff00", "stroke": "#ffff00", "strokeWidth": 0.6},
 "encoding": {
  "x": {"field": "x", "type": "quantitative", "scale": {"domain": [-1, 1], "nice": false, "zero": false},
   "axis": {"orient": "bottom", "values": [-1, -0.5, 0, 0.5, 1], "tickSize": -14, "labelPadding": 27, "labelFontSize": 19, "labelBaseline": "top", "labelAlign": "center", "labelExpr": "datum.value < -0.75 ? '-1' : datum.value < -0.25 ? '-0.5' : datum.value < 0.25 ? '0' : datum.value < 0.75 ? '0.5' : '1'", "title": "cos(β-α)", "titleFontSize": 22, "titleFontWeight": "normal", "titleX": 553, "titleY": 57, "titleAlign": "right", "titleBaseline": "alphabetic", "titleAngle": 0}},
  "y": {"field": "y", "type": "quantitative", "scale": {"type": "log", "domain": [0.1, 80], "nice": false},
   "axis": {"orient": "left", "values": [0.1, 1, 10], "tickSize": -14, "labelPadding": 29, "labelFontSize": 19, "labelAlign": "right", "labelBaseline": "middle", "labelExpr": "datum.value < 0.5 ? '10⁻¹' : datum.value < 5 ? '1' : '10'", "title": "tanβ", "titleFontSize": 22, "titleFontWeight": "normal", "titleX": -39, "titleY": 0, "titleAngle": 270, "titleAlign": "right", "titleBaseline": "bottom"}},
  "detail": {"field": "g"}, "order": {"value": null}}},
{"data": {"name": "p2g"}, "mark": {"type": "line", "fill": "#00ff00", "stroke": "#00ff00", "strokeWidth": 0.6},
 "encoding": {
  "x": {"field": "x", "type": "quantitative", "scale": {"domain": [-1, 1], "nice": false, "zero": false},
   "axis": {"orient": "bottom", "values": [-0.9, -0.8, -0.7, -0.6, -0.4, -0.3, -0.2, -0.1, 0.1, 0.2, 0.3, 0.4, 0.6, 0.7, 0.8, 0.9], "tickSize": -7, "labels": false, "title": null}},
  "y": {"field": "y", "type": "quantitative", "scale": {"type": "log", "domain": [0.1, 80], "nice": false},
   "axis": {"orient": "left", "values": [0.2, 0.3, 0.4, 0.5, 0.6, 0.7, 0.8, 0.9, 2, 3, 4, 5, 6, 7, 8, 9, 20, 30, 40, 50, 60, 70], "tickSize": -7, "labels": false, "title": null}},
  "detail": {"field": "g"}, "order": {"value": null}}},
{"data": {"name": "p2h"}, "mark": {"type": "line", "fill": "#000000", "fillOpacity": 0.2, "stroke": "transparent", "strokeWidth": 0},
 "encoding": {
  "x": {"field": "x", "type": "quantitative", "scale": {"domain": [-1, 1], "nice": false, "zero": false},
   "axis": {"orient": "top", "values": [-1, -0.5, 0, 0.5, 1], "tickSize": -14, "labels": false, "title": null}},
  "y": {"field": "y", "type": "quantitative", "scale": {"type": "log", "domain": [0.1, 80], "nice": false},
   "axis": {"orient": "right", "values": [0.1, 1, 10], "tickSize": -14, "labels": false, "title": null}},
  "detail": {"field": "g"}, "order": {"value": null}}},
{"data": {"name": "p2e"}, "mark": {"type": "line", "stroke": "#000000", "strokeWidth": 1.5, "strokeDash": [4, 3]},
 "encoding": {
  "x": {"field": "x", "type": "quantitative", "scale": {"domain": [-1, 1], "nice": false, "zero": false},
   "axis": {"orient": "top", "values": [-0.9, -0.8, -0.7, -0.6, -0.4, -0.3, -0.2, -0.1, 0.1, 0.2, 0.3, 0.4, 0.6, 0.7, 0.8, 0.9], "tickSize": -7, "labels": false, "title": null}},
  "y": {"field": "y", "type": "quantitative", "scale": {"type": "log", "domain": [0.1, 80], "nice": false},
   "axis": {"orient": "right", "values": [0.2, 0.3, 0.4, 0.5, 0.6, 0.7, 0.8, 0.9, 2, 3, 4, 5, 6, 7, 8, 9, 20, 30, 40, 50, 60, 70], "tickSize": -7, "labels": false, "title": null}},
  "detail": {"field": "g"}, "order": {"value": null}}},
{"data": {"name": "p2o"}, "mark": {"type": "line", "stroke": "#000000", "strokeWidth": 2},
 "encoding": {"detail": {"field": "g"}, "order": {"value": null}}},
{"data": {"values": [{"x": -0.909, "x2": -0.787, "y": 0.354, "y2": 0.435}]}, "mark": {"type": "rect", "color": "#00ff00"}, "encoding": {"x2": {"field": "x2"}, "y2": {"field": "y2"}}},
{"data": {"values": [{"x": -0.909, "x2": -0.787, "y": 0.27, "y2": 0.332}]}, "mark": {"type": "rect", "color": "#ffff00"}, "encoding": {"x2": {"field": "x2"}, "y2": {"field": "y2"}}},
{"data": {"values": [{"x": -0.9, "x2": -0.79, "y": 0.617, "y2": 0.749}]}, "mark": {"type": "rect", "color": "#000000", "opacity": 0.22}, "encoding": {"x2": {"field": "x2"}, "y2": {"field": "y2"}}},
{"data": {"values": [{"x": -0.906, "x2": -0.79, "y": 0.878}]}, "mark": {"type": "rule", "color": "#000000", "strokeWidth": 2}, "encoding": {"x2": {"field": "x2"}}},
{"data": {"values": [{"x": -0.906, "x2": -0.79, "y": 0.522}]}, "mark": {"type": "rule", "color": "#000000", "strokeWidth": 1.5, "strokeDash": [4, 3]}, "encoding": {"x2": {"field": "x2"}}},
{"data": {"values": [{"x": -0.899, "y": 50, "s": "CMS"}, {"x": -0.844, "y": 0.155, "s": "Type-II 2HDM"}]}, "mark": {"type": "text", "font": "Liberation Sans", "fontSize": 21, "fontWeight": "bold", "align": "left", "baseline": "middle", "color": "#000"}, "encoding": {"text": {"field": "s"}}},
{"data": {"values": [{"x": -0.917, "y": 1.166, "s": "95% CL limits"}, {"x": -0.761, "y": 0.878, "s": "Observed"}, {"x": -0.761, "y": 0.678, "s": "Excluded region"}, {"x": -0.761, "y": 0.522, "s": "Expected"}, {"x": -0.761, "y": 0.398, "s": "Expected ±1σ"}, {"x": -0.761, "y": 0.2996, "s": "Expected ±2σ"}]}, "mark": {"type": "text", "font": "Liberation Sans", "fontSize": 19, "fontWeight": "bold", "align": "left", "baseline": "middle", "color": "#000"}, "encoding": {"text": {"field": "s"}}},
{"data": {"values": [{"x": -0.899, "y": 97, "s": "A→Zh→ℓℓbb̄"}]}, "mark": {"type": "text", "font": "Liberation Sans", "fontSize": 18, "fontWeight": "bold", "align": "left", "baseline": "middle", "color": "#000"}, "encoding": {"text": {"field": "s"}}},
{"data": {"values": [{"x": 0.6482, "y": 97, "s": "L = 19.7 fb"}]}, "mark": {"type": "text", "font": "Liberation Sans", "fontSize": 22, "align": "right", "baseline": "middle", "color": "#000"}, "encoding": {"text": {"field": "s"}}},
{"data": {"values": [{"x": 0.6492, "y": 104.9, "s": "-1"}]}, "mark": {"type": "text", "font": "Liberation Sans", "fontSize": 14, "align": "left", "baseline": "middle", "color": "#000"}, "encoding": {"text": {"field": "s"}}},
{"data": {"values": [{"x": 1.0, "y": 97, "s": "(8 TeV)"}]}, "mark": {"type": "text", "font": "Liberation Sans", "fontSize": 22, "align": "right", "baseline": "middle", "color": "#000"}, "encoding": {"text": {"field": "s"}}},
{"data": {"values": [{"x": 0.2731, "y": 0.153, "s": "m"}, {"x": 0.3707, "y": 0.153, "s": "= 300 GeV"}]}, "mark": {"type": "text", "font": "Liberation Sans", "fontSize": 21, "align": "left", "baseline": "middle", "color": "#000"}, "encoding": {"text": {"field": "s"}}},
{"data": {"values": [{"x": 0.3382, "y": 0.14, "s": "A"}]}, "mark": {"type": "text", "font": "Liberation Sans", "fontSize": 14, "align": "left", "baseline": "middle", "color": "#000"}, "encoding": {"text": {"field": "s"}}}
]
}
]
}
